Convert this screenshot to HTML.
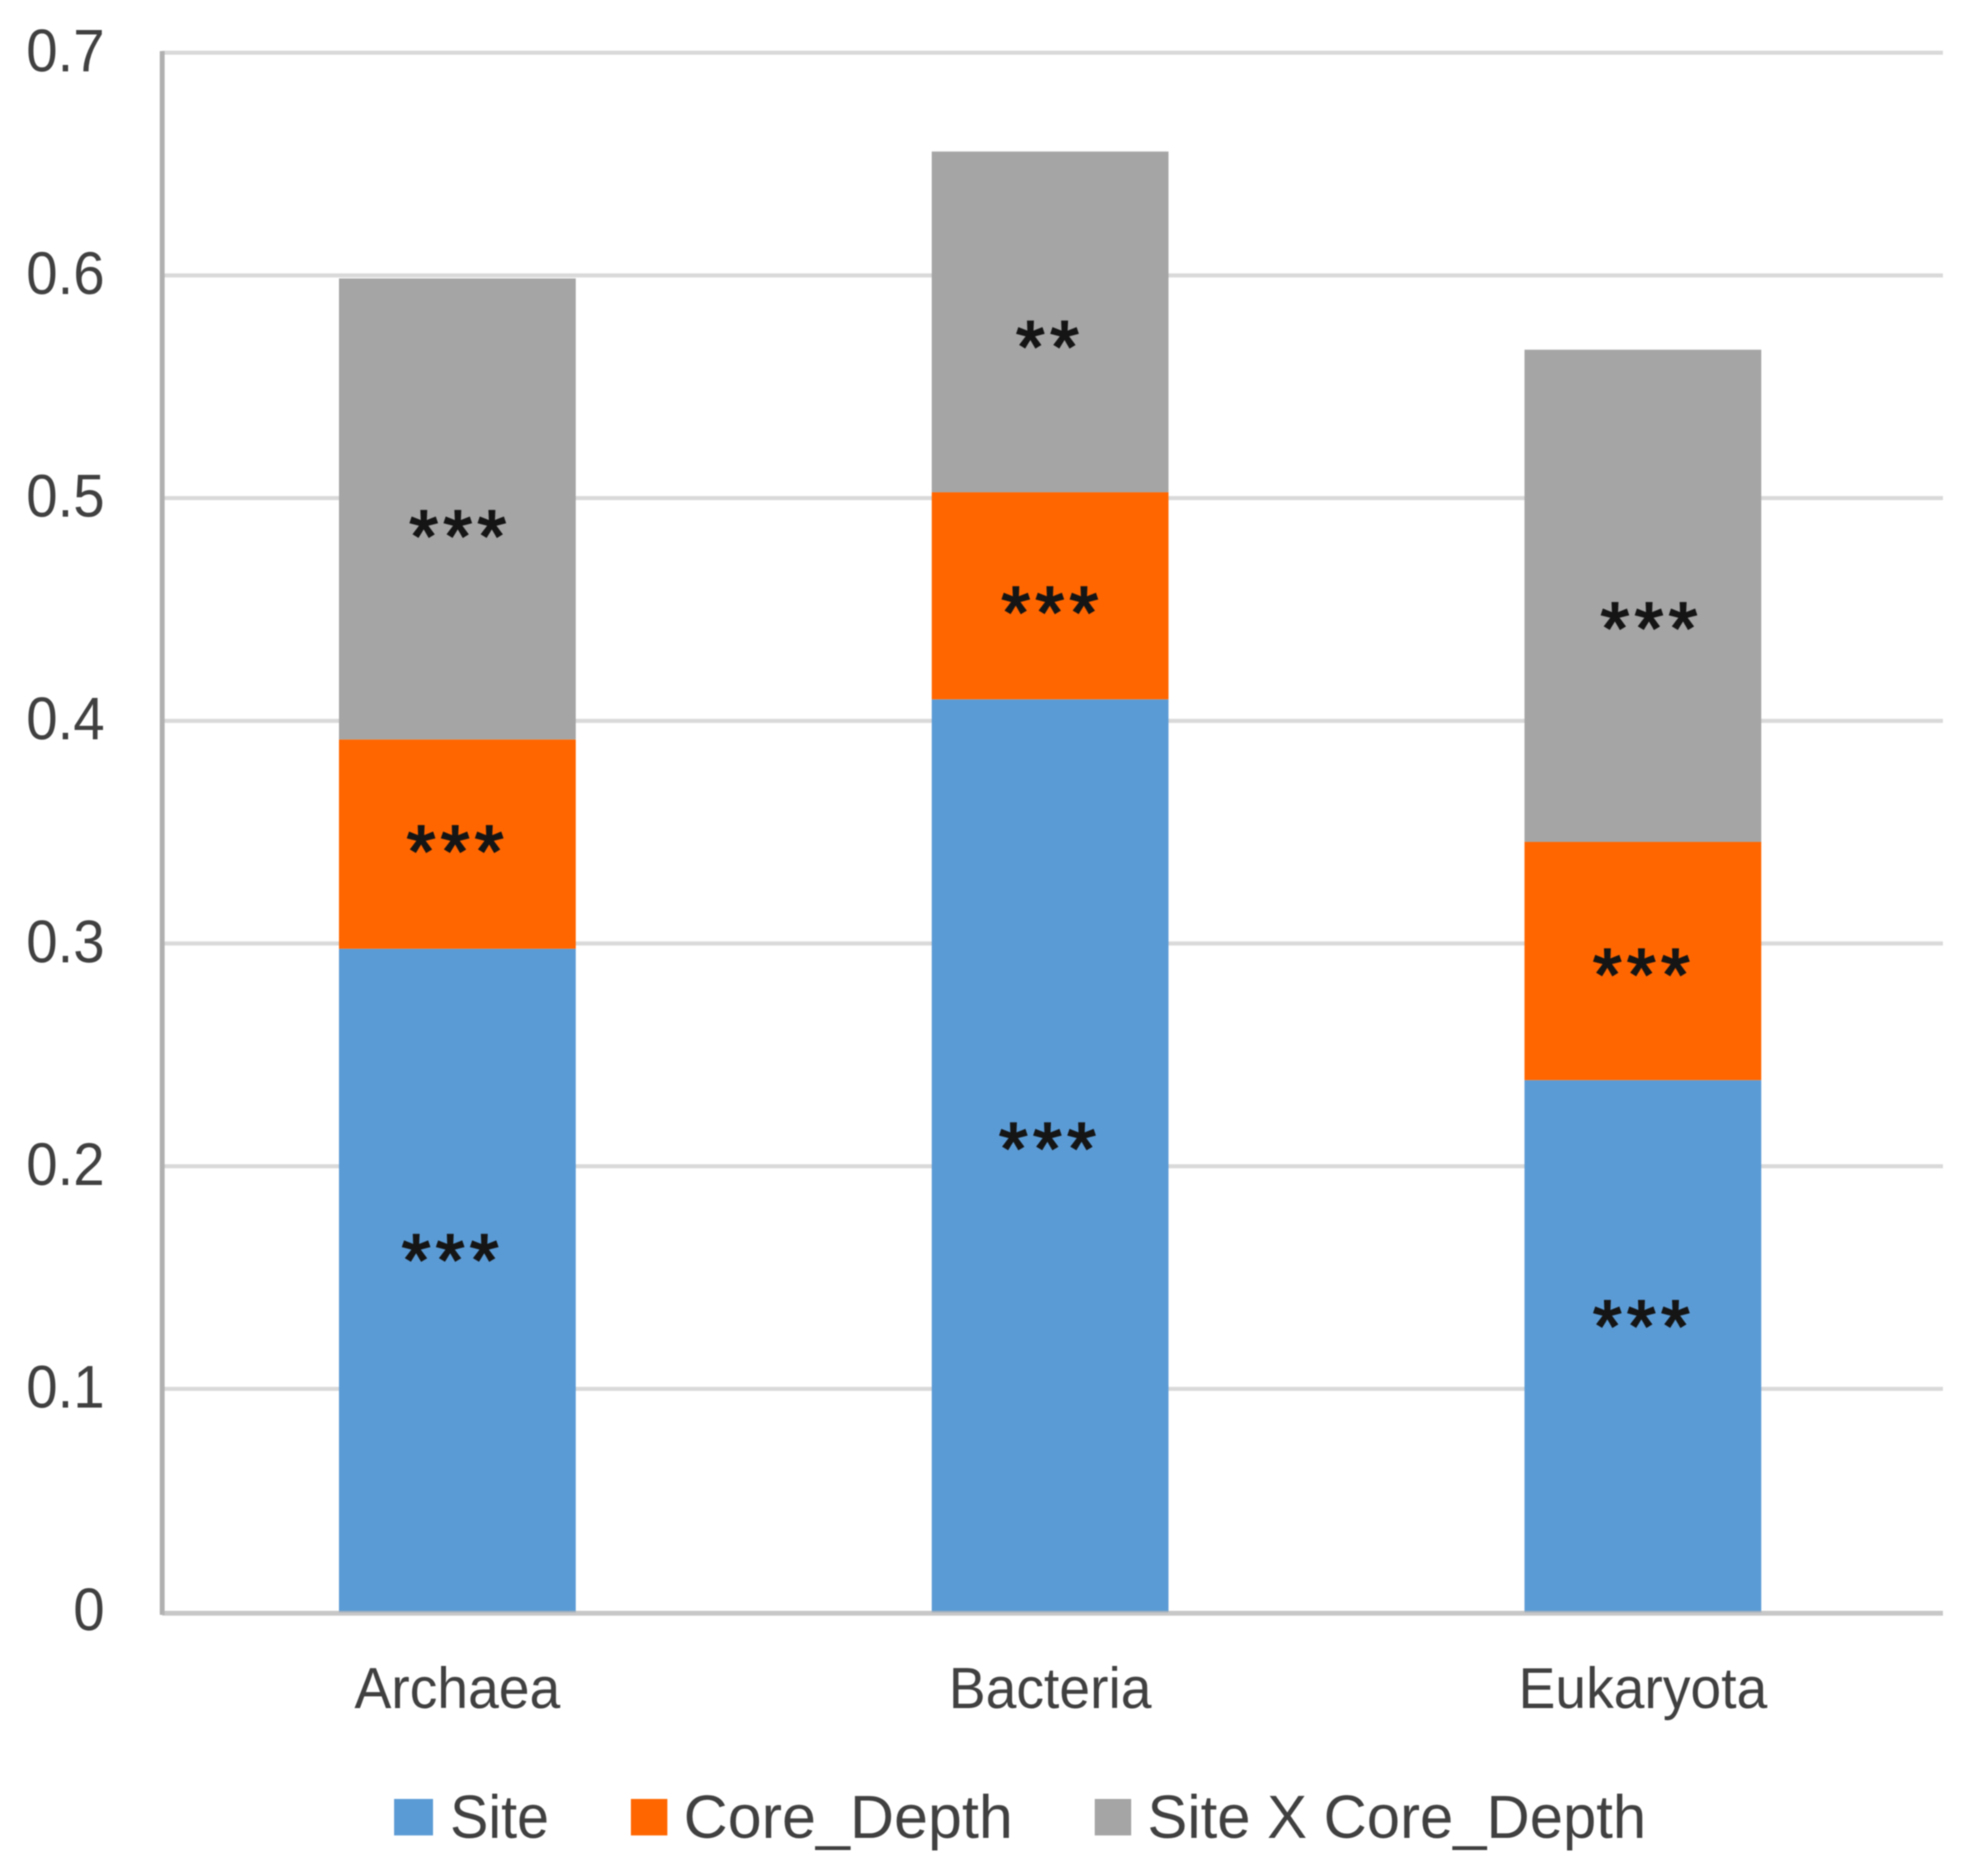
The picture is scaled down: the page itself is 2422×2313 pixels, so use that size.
<!DOCTYPE html>
<html lang="en">
<head>
<meta charset="utf-8">
<title>Stacked bar chart: Archaea, Bacteria, Eukaryota</title>
<style>
html,body{margin:0;padding:0;width:2422px;height:2313px;background:#fff;overflow:hidden}
svg{display:block;filter:blur(0.9px)}
text{font-family:"Liberation Sans",sans-serif;fill:#404040}
</style>
</head>
<body>
<svg id="chart" xmlns="http://www.w3.org/2000/svg" width="2422" height="2313" viewBox="0 0 2422 2313">
  <g id="grid"></g>
  <g id="bars"></g>
  <g id="axes"></g>
  <g id="stars"></g>
  <g id="labels"></g>
  <g>
    <rect x="486" y="2218" width="48" height="45" fill="#5b9bd5"/>
    <text x="555" y="2266" font-size="75" textLength="122" lengthAdjust="spacingAndGlyphs">Site</text>
    <rect x="778" y="2218" width="45" height="45" fill="#ff6600"/>
    <text x="843" y="2266" font-size="75" textLength="406" lengthAdjust="spacingAndGlyphs">Core_Depth</text>
    <rect x="1350" y="2218" width="45" height="45" fill="#a5a5a5"/>
    <text x="1415" y="2266" font-size="75" textLength="615" lengthAdjust="spacingAndGlyphs">Site X Core_Depth</text>
  </g>
</svg>
<script>
const categories = ['Archaea', 'Bacteria', 'Eukaryota'];
const siteValues = [0.298, 0.41, 0.239];
const coreDepthValues = [0.094, 0.093, 0.107];
const siteXCoreValues = [0.207, 0.153, 0.221];
const tickValues = [0, 0.1, 0.2, 0.3, 0.4, 0.5, 0.6, 0.7];
const tickLabels = ['0', '0.1', '0.2', '0.3', '0.4', '0.5', '0.6', '0.7'];
const siteStars = ['***', '***', '***'];
const coreDepthStars = ['***', '***', '***'];
const siteXCoreStars = ['***', '**', '***'];
/* where each star label sits inside its segment, as a fraction of segment height */
const siteStarHeight = [0.543, 0.517, 0.553];
const coreDepthStarHeight = [0.505, 0.46, 0.478];
const siteXCoreStarHeight = [0.459, 0.451, 0.451];
/* horizontal drift of each star label from the bar centre, as a fraction of bar width */
const siteStarDrift = [-0.032, -0.013, -0.008];
const coreDepthStarDrift = [-0.011, -0.003, -0.008];
const siteXCoreStarDrift = [0, -0.013, 0.024];

const NS = 'http://www.w3.org/2000/svg';
const plotLeft = 200, plotRight = 2396, yZero = 1988, yTop = 66, yMax = 0.7;
const firstCenter = 564, lastCenter = 2026, barWidth = 292;

function yScale(v) { return yZero - (v / yMax) * (yZero - yTop); }
function xScale(i) { return firstCenter + i * (lastCenter - firstCenter) / (categories.length - 1); }
function make(tag, attrs, parent) {
  const el = document.createElementNS(NS, tag);
  for (const k in attrs) el.setAttribute(k, attrs[k]);
  parent.appendChild(el);
  return el;
}

const gridG = document.getElementById('grid');
const barsG = document.getElementById('bars');
const axesG = document.getElementById('axes');
const starsG = document.getElementById('stars');
const labelsG = document.getElementById('labels');

tickValues.forEach(function (v, i) {
  if (v !== 0) {
    const line = make('line', {x1: plotLeft, x2: plotRight, y1: yScale(v) - 1, y2: yScale(v) - 1, stroke: '#d9d9d9', 'stroke-width': 5}, gridG);
    
    
  }
  const t = make('text', {transform: 'translate(129,' + (yScale(v) + 22) + ') scale(0.94,1)', 'text-anchor': 'end', 'font-size': 74}, labelsG);
  t.textContent = tickLabels[i];
  
  
});

const seriesList = [
  {key: 'site', values: siteValues, color: '#5b9bd5', stars: siteStars, starHeight: siteStarHeight, starDrift: siteStarDrift},
  {key: 'core-depth', values: coreDepthValues, color: '#ff6600', stars: coreDepthStars, starHeight: coreDepthStarHeight, starDrift: coreDepthStarDrift},
  {key: 'site-x-core-depth', values: siteXCoreValues, color: '#a5a5a5', stars: siteXCoreStars, starHeight: siteXCoreStarHeight, starDrift: siteXCoreStarDrift}
];

categories.forEach(function (cat, i) {
  let base = 0;
  const cx = xScale(i);
  seriesList.forEach(function (s) {
    const top = base + s.values[i];
    const bar = make('rect', {x: cx - barWidth / 2, y: yScale(top), width: barWidth, height: yScale(base) - yScale(top), fill: s.color}, barsG);
    
    
    const starValue = base + s.values[i] * s.starHeight[i];
    const star = make('text', {x: cx + s.starDrift[i] * barWidth + 4, y: yScale(starValue) + 41, 'text-anchor': 'middle', 'font-size': 90, 'letter-spacing': 7, style: 'fill:#151515;stroke:#151515;stroke-width:2.5px'}, starsG);
    star.textContent = s.stars[i];
    
    
    base = top;
  });
  const label = make('text', {transform: 'translate(' + cx + ',2106) scale(0.96,1)', 'text-anchor': 'middle', 'font-size': 71}, labelsG);
  label.textContent = cat;
  
  
});

const yAxis = make('line', {x1: plotLeft, x2: plotLeft, y1: yTop - 3, y2: yZero + 3, stroke: '#b0b0b0', 'stroke-width': 6}, axesG);


const xAxis = make('line', {x1: plotLeft, x2: plotRight, y1: yZero + 1, y2: yZero + 1, stroke: '#b4b4b4', 'stroke-width': 6, 'stroke-opacity': 0.75}, axesG);


</script>
</body>
</html>
